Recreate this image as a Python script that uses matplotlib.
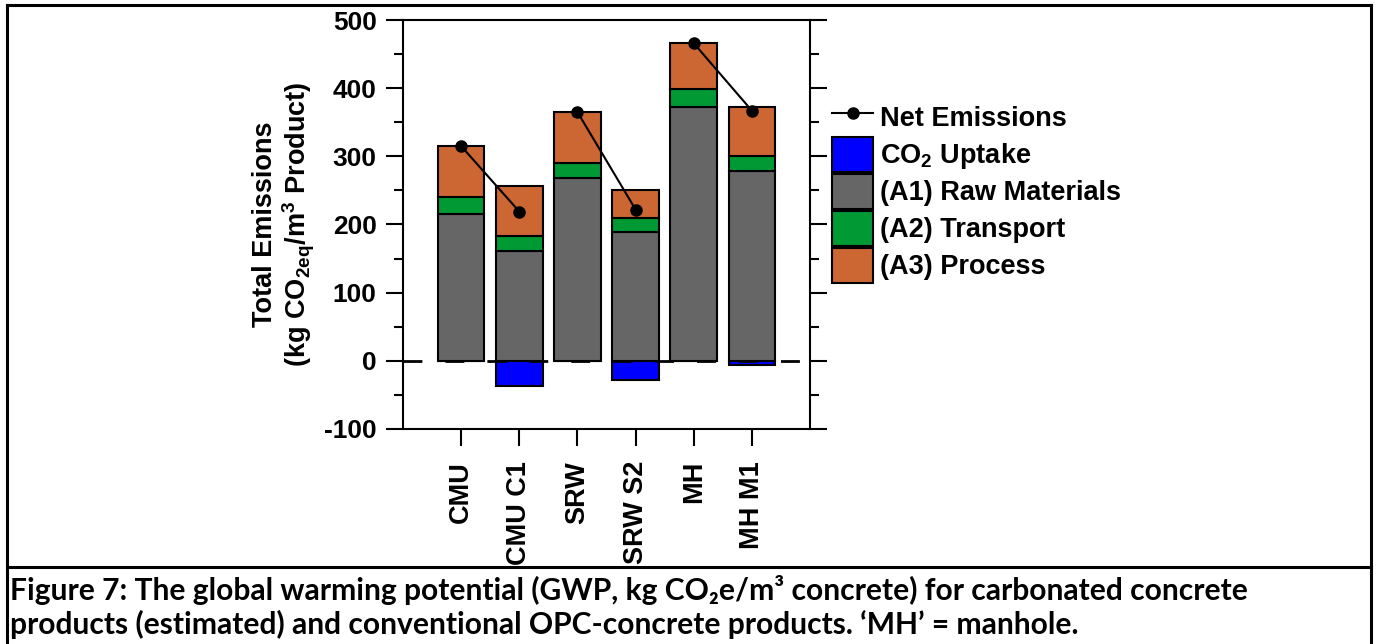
import matplotlib
matplotlib.use('Agg')
import matplotlib.pyplot as plt
from matplotlib.lines import Line2D
from matplotlib.patches import Patch
import numpy as np

# ---------------- data ----------------
categories = ["CMU", "CMU C1", "SRW", "SRW S2", "MH", "MH M1"]
raw_materials = [216, 161, 268, 189, 372, 278]
transport = [24, 22, 22, 21, 27, 23]
process = [75, 73, 75, 40, 67, 72]
co2_uptake = [0, -37, 0, -28, 0, -6]
net_emissions = [315, 219, 365, 222, 466, 367]
y_ticks = [-100, 0, 100, 200, 300, 400, 500]

caption1 = "Figure 7: The global warming potential (GWP, kg CO\u2082e/m\u00b3 concrete) for carbonated concrete"
caption2 = "products (estimated) and conventional OPC-concrete products. \u2018MH\u2019 = manhole."

# ---------------- style ----------------
plt.rcParams['font.family'] = ['Liberation Sans', 'DejaVu Sans']
plt.rcParams['font.weight'] = 'bold'
plt.rcParams['axes.labelweight'] = 'bold'
plt.rcParams['axes.unicode_minus'] = False
plt.rcParams['mathtext.fontset'] = 'custom'
plt.rcParams['mathtext.rm'] = 'Liberation Sans:bold'
plt.rcParams['mathtext.it'] = 'Liberation Sans:bold'
plt.rcParams['mathtext.bf'] = 'Liberation Sans:bold'
plt.rcParams['mathtext.sf'] = 'Liberation Sans:bold'
plt.rcParams['mathtext.default'] = 'rm'

W, H = 1379, 644
fig = plt.figure(figsize=(W / 100, H / 100), dpi=100)


def fx(p):
    return p / W


def fy(p):
    return 1 - p / H


ax = fig.add_axes([fx(403), fy(429), fx(810) - fx(403), fy(20) - fy(429)])

x = np.arange(1, len(categories) + 1)
raw = np.array(raw_materials)
tr = np.array(transport)
pr = np.array(process)
bw = 0.8
ekw = dict(edgecolor='black', linewidth=1.5, zorder=2)

c_up, c_raw, c_tr, c_pr = '#0000FF', '#666666', '#009933', '#CC6633'
ax.bar(x, co2_uptake, bw, color=c_up, **ekw)
ax.bar(x, raw, bw, color=c_raw, **ekw)
ax.bar(x, tr, bw, bottom=raw, color=c_tr, **ekw)
ax.bar(x, pr, bw, bottom=raw + tr, color=c_pr, **ekw)

ax.axhline(0, color='black', lw=2, linestyle=(0, (6.8, 8.3)), zorder=3)

for i in range(0, len(x), 2):
    ax.plot(x[i:i + 2], net_emissions[i:i + 2], color='black', lw=1.5,
            marker='o', ms=8, zorder=5)

ax.set_xlim(0, 7)
ax.set_ylim(-100, 500)
ax.set_yticks(y_ticks)
ax.set_yticks(np.arange(-50, 500, 100), minor=True)
ax.set_xticks(x, categories, rotation=90)
ax.tick_params(axis='y', which='major', direction='out', length=12, width=1.5,
               left=True, right=True, labelsize=19, pad=7)
ax.tick_params(axis='y', which='minor', direction='out', length=6.5, width=1.5,
               left=True, right=True)
ax.tick_params(axis='x', which='major', direction='out', length=12, width=1.5,
               bottom=True, top=False, labelsize=19.5, pad=11)
for s in ax.spines.values():
    s.set_linewidth(1.5)

ax.set_ylabel('Total Emissions\n(kg CO$_{2eq}$/m$^3$ Product)', fontsize=19.5,
              fontweight='bold', labelpad=5, linespacing=1.1)

handles = [
    Line2D([], [], color='black', lw=1.5, marker='o', ms=8),
    Patch(facecolor=c_up, edgecolor='black', linewidth=1.5),
    Patch(facecolor=c_raw, edgecolor='black', linewidth=1.5),
    Patch(facecolor=c_tr, edgecolor='black', linewidth=1.5),
    Patch(facecolor=c_pr, edgecolor='black', linewidth=1.5),
]
labels = ['Net Emissions', 'CO$_2$ Uptake', '(A1) Raw Materials',
          '(A2) Transport', '(A3) Process']
fig.legend(handles, labels, loc='upper left', bbox_to_anchor=(fx(832), fy(100)),
           frameon=False, fontsize=19.5, handlelength=1.52, handleheight=1.6,
           handletextpad=0.26, labelspacing=0.08, borderpad=0, borderaxespad=0)

# ---------------- caption ----------------
cap_kw = dict(family=['Lato', 'DejaVu Sans'], weight='bold', va='baseline',
              ha='left', transform=fig.transFigure)
t1 = fig.text(fx(10), fy(600), caption1, fontsize=19, **cap_kw)
t2 = fig.text(fx(10), fy(634), caption2, fontsize=19, **cap_kw)
fig.canvas.draw()
r = fig.canvas.get_renderer()
w1 = t1.get_window_extent(r).width
fs = 19 * 1237 / w1
t1.set_fontsize(fs)
t2.set_fontsize(fs)

# ---------------- frame lines ----------------
lkw = dict(transform=fig.transFigure, color='black', lw=2.2,
           solid_capstyle='projecting')
fig.add_artist(Line2D([fx(7), fx(7)], [fy(5), 0], **lkw))
fig.add_artist(Line2D([fx(7), fx(1371)], [fy(5), fy(5)], **lkw))
fig.add_artist(Line2D([fx(1371), fx(1371)], [fy(5), 0], **lkw))
fig.add_artist(Line2D([fx(7), fx(1371)], [fy(567), fy(567)], **lkw))

fig.savefig('out.png', dpi=100)
